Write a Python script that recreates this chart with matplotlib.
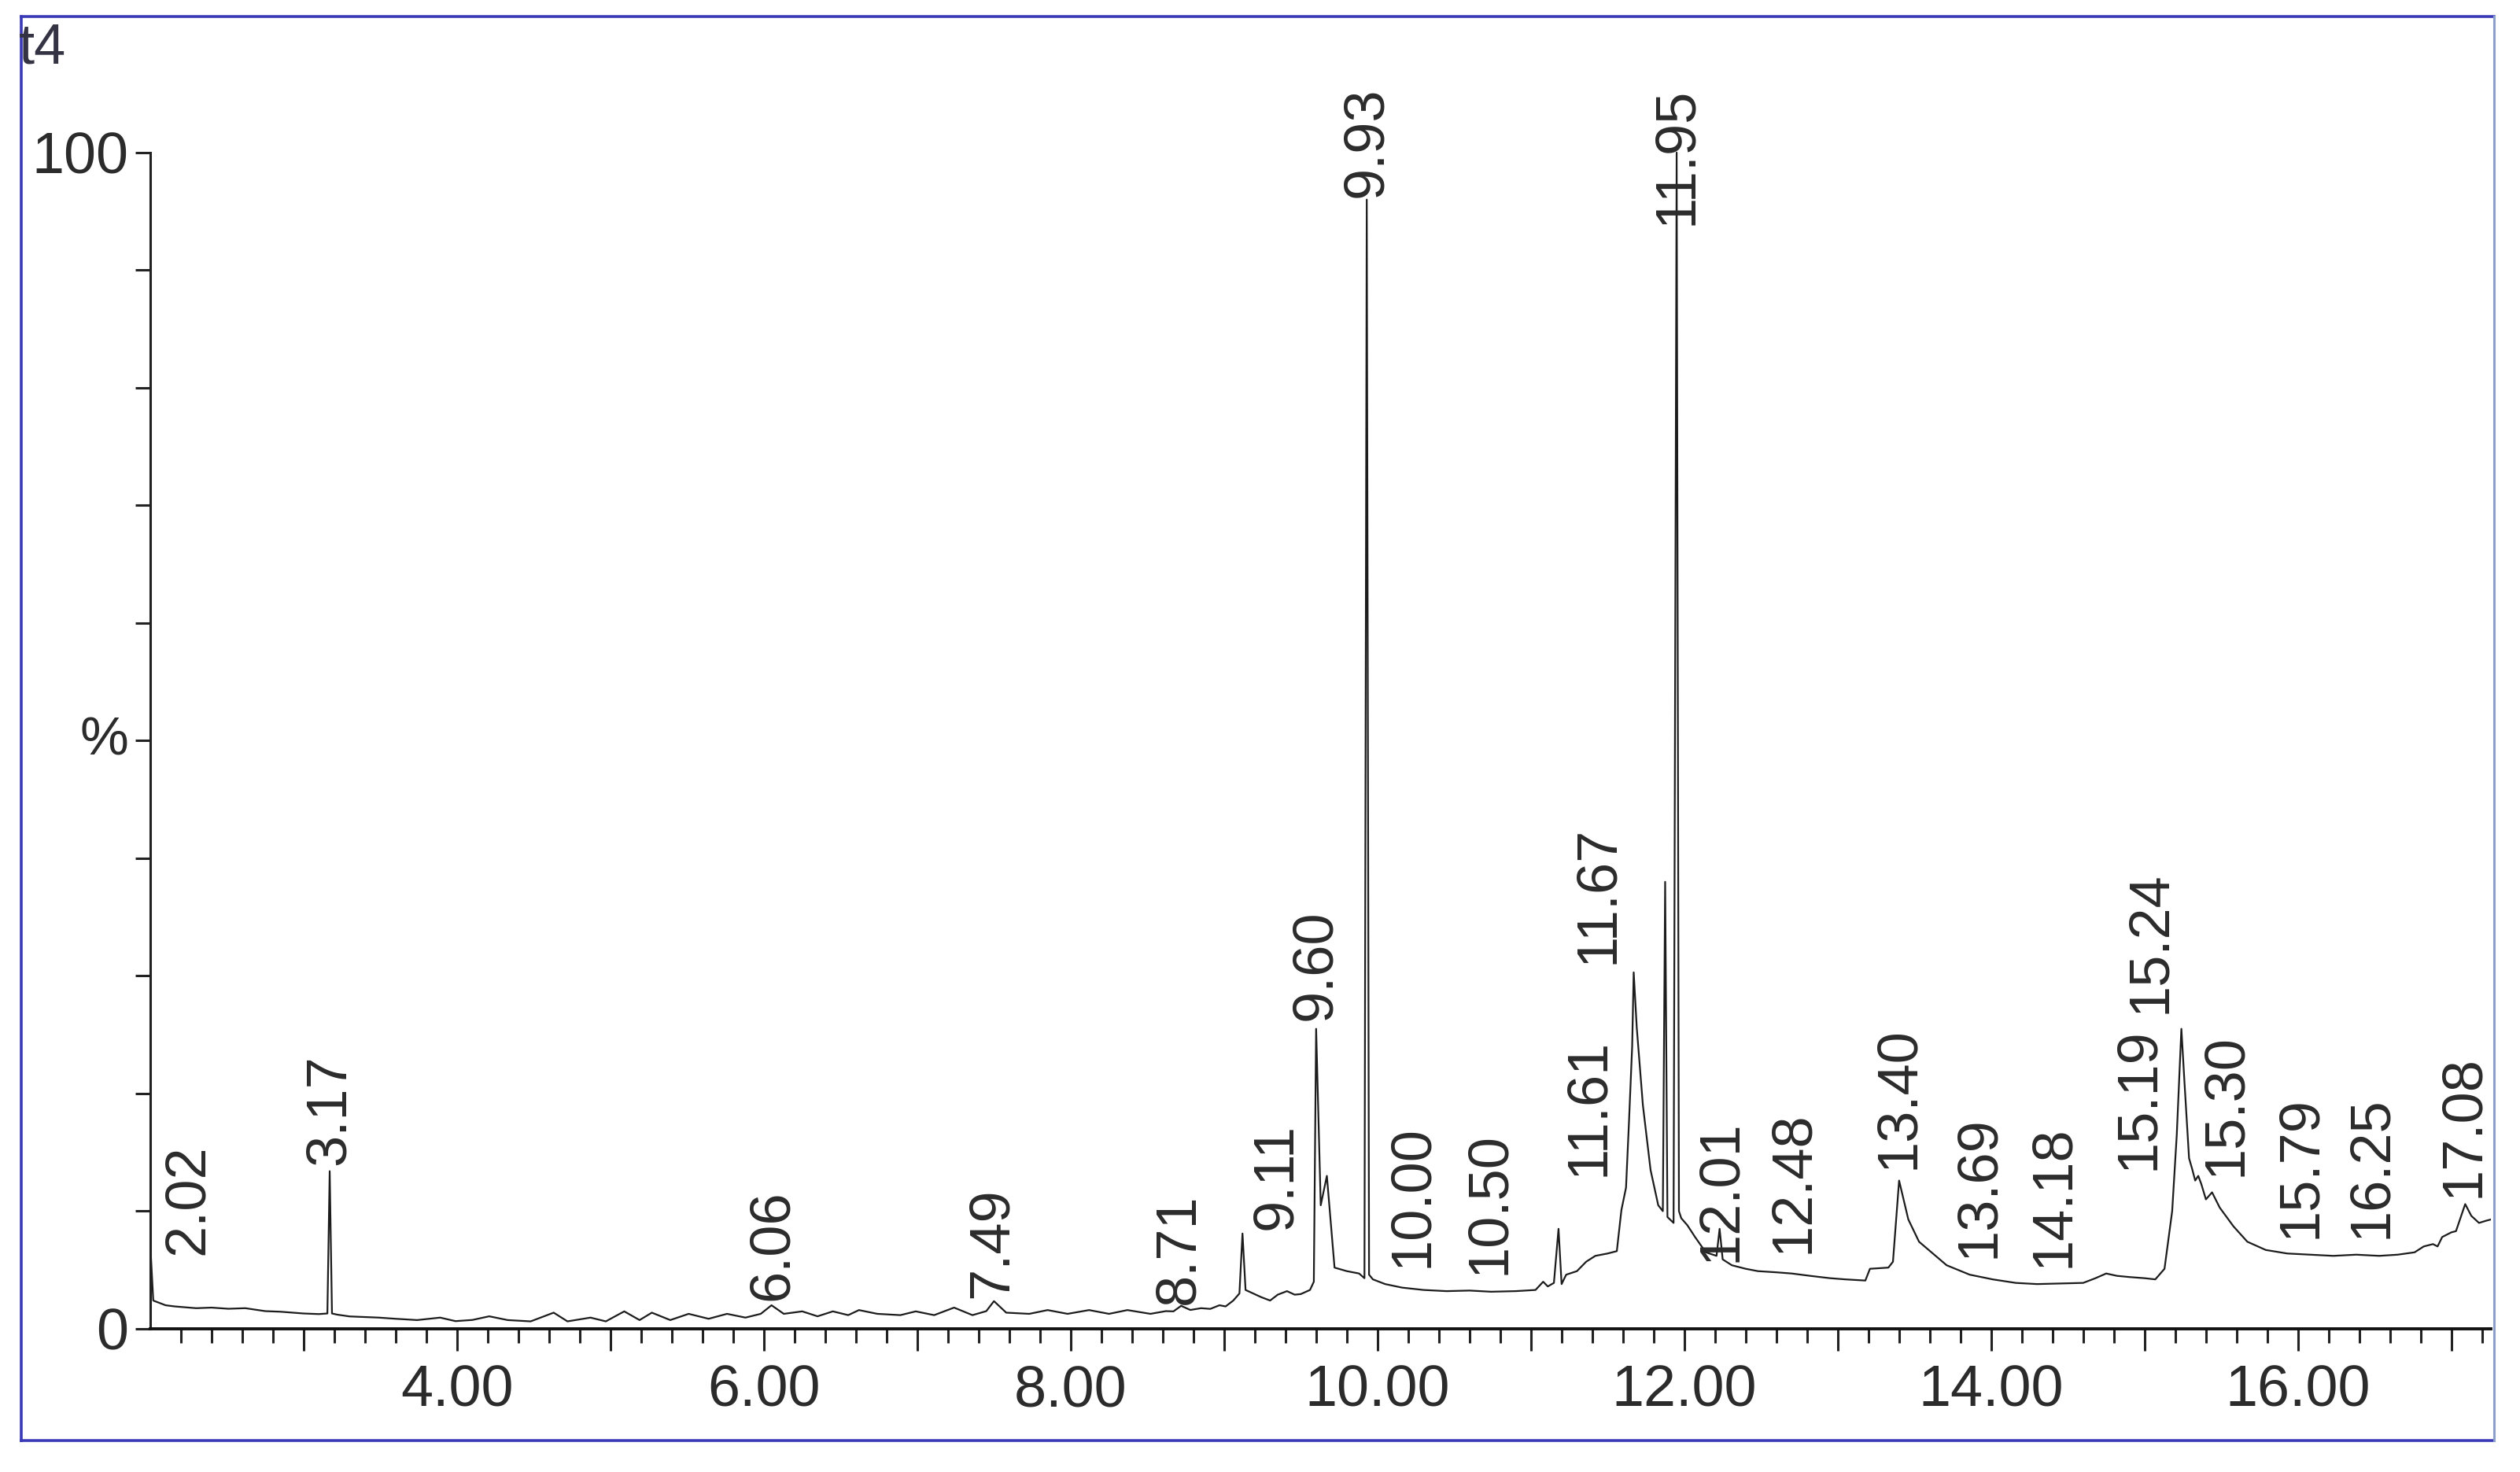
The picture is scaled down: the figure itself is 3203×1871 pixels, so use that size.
import numpy as np
import matplotlib.pyplot as plt
from matplotlib.ticker import FixedLocator, FuncFormatter
from matplotlib.lines import Line2D

# chromatogram trace (retention time in min, relative %)
rt = [2.005, 2.02, 2.10, 2.16, 2.30, 2.40, 2.51, 2.62, 2.75, 2.85, 3.00, 3.10,
      3.155, 3.17, 3.185, 3.22, 3.30, 3.40, 3.49, 3.60, 3.74, 3.89, 3.99, 4.10,
      4.21, 4.33, 4.48, 4.63, 4.72, 4.87, 4.97, 5.09, 5.19, 5.27, 5.39, 5.51,
      5.64, 5.76, 5.88, 5.98, 6.05, 6.13, 6.25, 6.35, 6.45, 6.55, 6.62, 6.74,
      6.89, 6.99, 7.11, 7.24, 7.36, 7.45, 7.50, 7.58, 7.73, 7.85, 7.98, 8.12,
      8.25, 8.37, 8.52, 8.62, 8.67, 8.72, 8.78, 8.85, 8.91, 8.97, 9.01, 9.06,
      9.10, 9.12, 9.14, 9.19, 9.24, 9.30, 9.35, 9.41, 9.46, 9.50, 9.56, 9.585,
      9.60, 9.63, 9.67, 9.72, 9.80, 9.88, 9.915, 9.93, 9.945, 9.97, 10.05, 10.16,
      10.30, 10.45, 10.60, 10.74, 10.90, 11.03, 11.08, 11.11, 11.15, 11.18, 11.20, 11.23,
      11.30, 11.36, 11.42, 11.50, 11.56, 11.59, 11.62, 11.64, 11.66, 11.67, 11.69, 11.73,
      11.78, 11.83, 11.86, 11.875, 11.89, 11.93, 11.95, 11.965, 11.98, 12.02, 12.07, 12.14,
      12.21, 12.23, 12.25, 12.31, 12.40, 12.48, 12.60, 12.70, 12.82, 12.95, 13.05, 13.18,
      13.21, 13.33, 13.36, 13.40, 13.46, 13.53, 13.62, 13.71, 13.86, 14.01, 14.16, 14.30,
      14.45, 14.60, 14.68, 14.75, 14.82, 14.90, 15.00, 15.07, 15.13, 15.18, 15.21, 15.24,
      15.26, 15.29, 15.31, 15.33, 15.35, 15.37, 15.40, 15.44, 15.49, 15.58, 15.67, 15.79,
      15.93, 16.08, 16.23, 16.38, 16.53, 16.65, 16.76, 16.82, 16.88, 16.91, 16.94, 17.00,
      17.03, 17.09, 17.13, 17.18, 17.23, 17.26]
intensity = [6.1, 2.4, 2.0, 1.9, 1.75, 1.8, 1.7, 1.75, 1.5, 1.45, 1.3, 1.25,
             1.3, 13.4, 1.3, 1.2, 1.05, 1.0, 0.95, 0.85, 0.74, 0.95, 0.65, 0.75,
             1.06, 0.74, 0.63, 1.37, 0.63, 0.95, 0.63, 1.48, 0.74, 1.37, 0.74, 1.27,
             0.85, 1.27, 0.95, 1.27, 2.0, 1.27, 1.48, 1.06, 1.48, 1.16, 1.59, 1.27,
             1.16, 1.48, 1.16, 1.8, 1.16, 1.5, 2.35, 1.37, 1.27, 1.59, 1.27, 1.59,
             1.27, 1.59, 1.27, 1.5, 1.48, 1.95, 1.6, 1.75, 1.69, 2.0, 1.9, 2.4,
             3.0, 8.1, 3.3, 3.0, 2.7, 2.4, 2.9, 3.2, 2.9, 2.95, 3.3, 4.0,
             25.5, 10.5, 13.0, 5.2, 4.9, 4.7, 4.3, 96.0, 4.6, 4.2, 3.8, 3.5,
             3.3, 3.2, 3.25, 3.15, 3.2, 3.3, 4.0, 3.6, 3.9, 8.5, 3.8, 4.6,
             4.9, 5.7, 6.2, 6.4, 6.6, 10.1, 12.0, 17.8, 24.0, 30.3, 25.6, 19.0,
             13.5, 10.5, 10.0, 38.0, 9.5, 9.0, 100.0, 10.0, 9.4, 8.8, 7.8, 6.5,
             6.2, 8.5, 5.9, 5.4, 5.1, 4.9, 4.8, 4.7, 4.5, 4.3, 4.2, 4.1,
             5.1, 5.2, 5.7, 12.6, 9.3, 7.4, 6.4, 5.4, 4.6, 4.2, 3.9, 3.8,
             3.85, 3.9, 4.3, 4.7, 4.5, 4.4, 4.3, 4.2, 5.1, 10.0, 16.5, 25.5,
             21.0, 14.5, 13.6, 12.6, 13.0, 12.3, 11.0, 11.6, 10.3, 8.7, 7.4, 6.7,
             6.4, 6.3, 6.2, 6.3, 6.2, 6.3, 6.5, 7.0, 7.2, 7.0, 7.8, 8.2,
             8.3, 10.6, 9.6, 9.0, 9.2, 9.3]

peak_labels = ['2.02', '3.17', '6.06', '7.49', '8.71', '9.11', '9.60', '9.93',
               '10.00', '10.50', '11.61', '11.67', '11.95', '12.01', '12.48',
               '13.40', '13.69', '14.18', '15.19', '15.24', '15.30', '15.79',
               '16.25', '17.08']

# label placement (layout): sideways shift in min, bottom of text in %
label_dx = [0.23, 0, 0, 0, 0, 0.23, 0, 0,
            0.23, 0.23, -0.23, -0.23, 0, 0.23, 0.23,
            0, 0.23, 0.23, -0.23, -0.20, 0.23, 0.23,
            0.23, 0]
label_y = [6.3, 13.9, 2.4, 2.6, 2.1, 8.4, 26.2, 96.2,
           5.2, 4.6, 13.0, 31.0, None, 5.7, 6.4,
           13.6, 6.0, 5.2, 13.5, 26.8, 13.0, 7.7,
           7.7, 11.2]
LABEL_TOP = 105.6

plt.rcParams['font.family'] = ['Liberation Sans', 'DejaVu Sans']
text_color = '#2b2b2b'

fig = plt.figure(figsize=(32.03, 18.71), dpi=100)
ax = fig.add_axes([0.0596, 0.0973, 0.9290, 0.8630])
ax.plot(rt, intensity, color='#1c1c1c', lw=1.6)

ax.set_xlim(2.0, 17.26)
ax.set_ylim(0, 108)
ax.patch.set_alpha(0)
for side in ['top', 'right']:
    ax.spines[side].set_visible(False)
ax.spines['left'].set_bounds(0, 100)
ax.spines['left'].set_linewidth(2.2)
ax.spines['bottom'].set_linewidth(2.8)
ax.spines['left'].set_color('#222222')
ax.spines['bottom'].set_color('#111111')

ax.xaxis.set_major_locator(FixedLocator(np.arange(3, 18)))
ax.xaxis.set_minor_locator(FixedLocator(np.arange(2.2, 17.25, 0.2)))
ax.xaxis.set_major_formatter(FuncFormatter(lambda v, p: f'{v:.2f}' if round(v) % 2 == 0 else ''))
ax.tick_params(axis='x', which='major', direction='out', length=20, width=2.2,
               pad=12, labelsize=53, labelcolor=text_color, color='#222222')
ax.tick_params(axis='x', which='minor', direction='out', length=13, width=2.2,
               color='#222222')

ax.yaxis.set_major_locator(FixedLocator(np.arange(0, 101, 10)))
ax.yaxis.set_major_formatter(FuncFormatter(lambda v, p: f'{v:.0f}' if v in (0, 100) else ''))
ax.tick_params(axis='y', which='major', direction='out', length=14, width=2.2,
               pad=6, labelsize=53, labelcolor=text_color, color='#222222')

ax.text(-0.0195, 50, '%', transform=ax.get_yaxis_transform(), ha='center', va='center',
        fontsize=50, color=text_color)

for lab, dx, ly in zip(peak_labels, label_dx, label_y):
    x = float(lab) + dx
    if ly is None:
        ax.text(x, LABEL_TOP, lab, rotation=90, ha='center', va='top',
                fontsize=52, color=text_color, clip_on=False)
    else:
        ax.text(x, ly, lab, rotation=90, ha='center', va='bottom',
                fontsize=52, color=text_color, clip_on=False)

fig.text(0.0075, 0.985, 't4', ha='left', va='top', fontsize=52, color='#333344')

# outer frame
x0, x1 = 27 / 3203, 3170 / 3203
y0, y1 = 1 - 1831 / 1871, 1 - 21 / 1871
frame = '#3a3ab8'
fig.add_artist(Line2D([x0, x1], [y1, y1], color=frame, lw=2.6, transform=fig.transFigure))
fig.add_artist(Line2D([x0, x1], [y0, y0], color=frame, lw=2.6, transform=fig.transFigure))
fig.add_artist(Line2D([x0, x0], [y0, y1], color=frame, lw=2.6, transform=fig.transFigure))
fig.add_artist(Line2D([x1, x1], [y0, y1], color='#8da0cc', lw=2.2, transform=fig.transFigure))

fig.savefig('out.png', dpi=100)
